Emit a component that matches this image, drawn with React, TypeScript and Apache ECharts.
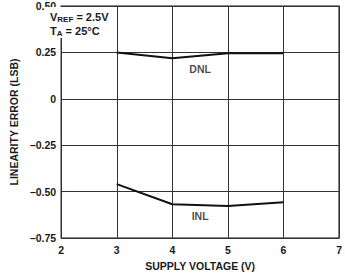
import React, { useEffect, useRef } from "react";
import * as echarts from "echarts";

const voltages = [3, 4, 5, 6];
const dnl = [0.25, 0.218, 0.245, 0.245];
const inl = [-0.46, -0.568, -0.578, -0.558];
const curveLabels = [
  { name: "DNL", x: 4.5, y: 0.163 },
  { name: "INL", x: 4.5, y: -0.632 },
];

const FONT = "Liberation Sans, Arial, sans-serif";
const INK = "#1a1a1a";

export default function App() {
  const ref = useRef<HTMLDivElement>(null);
  useEffect(() => {
    if (!ref.current) return;
    const chart = echarts.init(ref.current, undefined, { renderer: "svg" });
    const dash = (v: number, digits: number) =>
      v === 0 ? "0" : v.toFixed(digits).replace("-", "\u2013");
    const tickFont = { fontFamily: FONT, fontWeight: "bold" as const, fontSize: 10.5, color: INK };
    chart.setOption({
      animation: false,
      backgroundColor: "#fff",
      grid: { left: 44, right: 4, top: 6, bottom: 32, show: true, borderColor: "#111", borderWidth: 1.2 },
      xAxis: {
        type: "value",
        min: 2,
        max: 7,
        interval: 1,
        name: "SUPPLY VOLTAGE (V)",
        nameLocation: "middle",
        nameGap: 22,
        nameTextStyle: { ...tickFont },
        axisLine: { show: false },
        axisTick: { show: false },
        axisLabel: { ...tickFont, margin: 6 },
        splitLine: { show: true, lineStyle: { color: "#333", width: 1 } },
      },
      yAxis: {
        type: "value",
        min: -0.75,
        max: 0.5,
        interval: 0.25,
        name: "LINEARITY ERROR (LSB)",
        nameLocation: "middle",
        nameGap: 33,
        nameTextStyle: { ...tickFont },
        axisLine: { show: false },
        axisTick: { show: false },
        axisLabel: {
          ...tickFont,
          margin: 5,
          formatter: (v: number) => dash(v, 2),
        },
        splitLine: { show: true, lineStyle: { color: "#333", width: 1 } },
      },
      graphic: [
        { type: "rect", shape: { x: 45, y: 7, width: 60, height: 31 }, style: { fill: "#fff" }, z: 10 },
        {
          type: "text",
          x: 50,
          y: 10,
          z: 11,
          style: {
            text: "{b|V}{s|REF}{b| = 2.5V}\n{b|T}{s|A}{b| = 25\u00b0C}",
            fontFamily: FONT,
            lineHeight: 14,
            rich: {
              b: { fontFamily: FONT, fontWeight: "bold", fontSize: 11, fill: INK, lineHeight: 14 },
              s: { fontFamily: FONT, fontWeight: "bold", fontSize: 8, fill: INK, lineHeight: 14, padding: [5, 0, 0, 0] },
            },
          },
        },
      ],
      series: [
        {
          type: "line",
          data: voltages.map((v, i) => [v, dnl[i]]),
          symbol: "none",
          lineStyle: { color: "#111", width: 2 },
        },
        {
          type: "line",
          data: voltages.map((v, i) => [v, inl[i]]),
          symbol: "none",
          lineStyle: { color: "#111", width: 2 },
        },
        {
          type: "scatter",
          symbolSize: 1,
          itemStyle: { color: "rgba(0,0,0,0)" },
          data: curveLabels.map((c) => ({ value: [c.x, c.y], name: c.name })),
          label: {
            show: true,
            position: "inside",
            formatter: (p: any) => p.name,
            ...tickFont,
          },
        },
      ],
    });
    return () => chart.dispose();
  }, []);
  return <div ref={ref} style={{ width: 345, height: 276, position: "absolute", left: 0, top: 0 }} />;
}
